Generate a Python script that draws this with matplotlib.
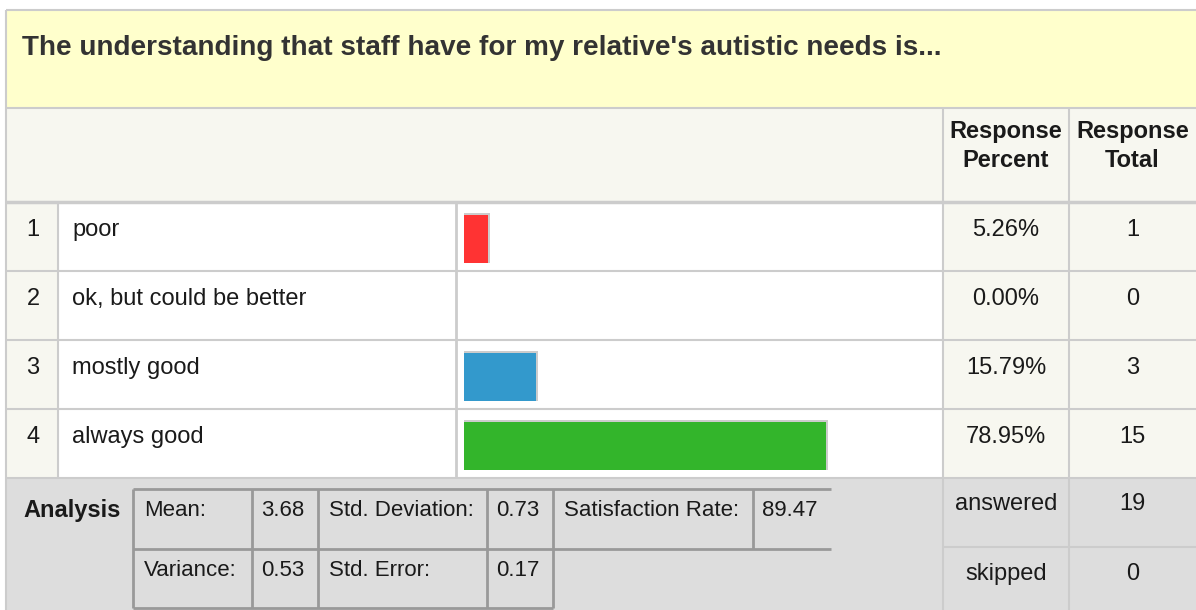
import numpy as np
import matplotlib
matplotlib.use("Agg")
import matplotlib.pyplot as plt
from matplotlib.patches import Rectangle

plt.rcParams['font.family'] = ['Liberation Sans', 'DejaVu Sans']

title = "The understanding that staff have for my relative's autistic needs is..."
answers = ["poor", "ok, but could be better", "mostly good", "always good"]
percents = [5.26, 0.00, 15.79, 78.95]
totals = [1, 0, 3, 15]
bar_colours = ["#FF3333", "#3399CC", "#3399CC", "#33B52B"]

stat_names = ["Mean:", "Std. Deviation:", "Satisfaction Rate:", "Variance:", "Std. Error:"]
stat_values = ["3.68", "0.73", "89.47", "0.53", "0.17"]
answered = 19
skipped = 0

W, H = 1196, 610
BEIGE = "#F7F7F0"
LINE = "#CCCCCC"
GREY = "#DDDDDD"
DARK = "#999999"
TXT = "#1a1a1a"
FS = 17        # body text
FS_STAT = 16   # stats table text

fig = plt.figure(figsize=(W / 100, H / 100), dpi=100)
ax = fig.add_axes([0, 0, 1, 1])
ax.set_xlim(0, W)
ax.set_ylim(H, 0)
ax.axis("off")

def box(x0, y0, x1, y1, fc):
    ax.add_patch(Rectangle((x0, y0), x1 - x0, y1 - y0, facecolor=fc, edgecolor="none", zorder=0))

def hline(y, x0, x1, c=LINE, lw=1.5):
    ax.plot([x0, x1], [y, y], color=c, lw=lw, solid_capstyle="butt", zorder=2)

def vline(x, y0, y1, c=LINE, lw=1.5):
    ax.plot([x, x], [y0, y1], color=c, lw=lw, solid_capstyle="butt", zorder=2)

# layout (pixels)
left, top = 6, 10
title_bot = 108
head_bot = 202
row_h = 69
rows_bot = head_bot + row_h * len(answers)
c_num, c_bar, c_pct, c_tot = 58, 456, 943, 1069

# title and header bands
box(left, top, W, title_bot, "#FFFFCC")
box(left, title_bot, W, head_bot, BEIGE)
ax.text(22, 48, title, fontsize=20.1, fontweight="bold", color="#333333", va="center", ha="left")
ax.text((c_pct + c_tot) / 2, 146, "Response\nPercent", fontsize=FS, fontweight="bold",
        color=TXT, ha="center", va="center", linespacing=1.35)
ax.text((c_tot + W) / 2, 146, "Response\nTotal", fontsize=FS, fontweight="bold",
        color=TXT, ha="center", va="center", linespacing=1.35)

# answer rows
for i, (name, pct, tot) in enumerate(zip(answers, percents, totals)):
    y0 = head_bot + i * row_h
    box(left, y0, c_num, y0 + row_h, BEIGE)
    box(c_num, y0, c_pct, y0 + row_h, "white")
    box(c_pct, y0, W, y0 + row_h, BEIGE)
    ty = y0 + 28
    ax.text((left + c_num) / 2 + 1, ty, str(i + 1), fontsize=FS, color=TXT, ha="center", va="center")
    ax.text(72, ty, name, fontsize=FS, color=TXT, ha="left", va="center")
    ax.text((c_pct + c_tot) / 2, ty, f"{pct:.2f}%", fontsize=FS, color=TXT, ha="center", va="center")
    ax.text((c_tot + W) / 2, ty, str(tot), fontsize=FS, color=TXT, ha="center", va="center")
    hline(y0 + row_h, left, W)

# analysis band
box(left, rows_bot, W, H, GREY)
mid = rows_bot + 69
ax.text(72, 511, "Analysis", fontsize=FS, fontweight="bold", color=TXT, ha="center", va="center")
ax.text((c_pct + c_tot) / 2, 504, "answered", fontsize=FS, color=TXT, ha="center", va="center")
ax.text((c_tot + W) / 2, 504, str(answered), fontsize=FS, color=TXT, ha="center", va="center")
ax.text((c_pct + c_tot) / 2, 574, "skipped", fontsize=FS, color=TXT, ha="center", va="center")
ax.text((c_tot + W) / 2, 574, str(skipped), fontsize=FS, color=TXT, ha="center", va="center")
hline(mid, c_pct, W)

# inner stats table
sx = [133, 252, 318, 487, 553, 753, 831]
sy = [489, 549, 608]
hline(sy[0], sx[0], sx[-1], DARK, 2)
hline(sy[1], sx[0], sx[-1], DARK, 2)
hline(sy[2], sx[0], sx[4], DARK, 2)
for x in sx[:5]:
    vline(x, sy[0], sy[2], DARK, 2)
vline(sx[5], sy[0], sy[1], DARK, 2)
cells = [(0, 0), (2, 0), (4, 0), (0, 1), (2, 1)]
for (col, r), nm, val in zip(cells, stat_names, stat_values):
    ty = sy[r] + 22
    ax.text(sx[col] + 11, ty, nm, fontsize=FS_STAT, color=TXT, ha="left", va="center")
    ax.text(sx[col + 1] + 9, ty, val, fontsize=FS_STAT, color=TXT, ha="left", va="center")

# table rules
hline(title_bot, left, W)
hline(head_bot, left, W, lw=2.5)
vline(left, top, H)
hline(top, left, W)
vline(c_num, head_bot, rows_bot)
vline(c_bar, head_bot, rows_bot, lw=2)
vline(c_pct, title_bot, H)
vline(c_tot, title_bot, H)

# bars, drawn on their own percent axis
bar_l, bar_w = 464, 458
bx = fig.add_axes([bar_l / W, 1 - rows_bot / H, bar_w / W, (rows_bot - head_bot) / H])
bx.set_xlim(0, 100)
bx.set_ylim(len(answers) - 0.5, -0.5)
bx.axis("off")
pos = np.arange(len(answers))
p = np.array(percents)
shadow = np.where(p > 0, p + 0.45, 0)
bx.barh(pos + 0.022, shadow, height=0.725, color=LINE, edgecolor="none")
bx.barh(pos + 0.036, p, height=0.696, color=bar_colours, edgecolor="none")

fig.savefig("out.png", dpi=100)
